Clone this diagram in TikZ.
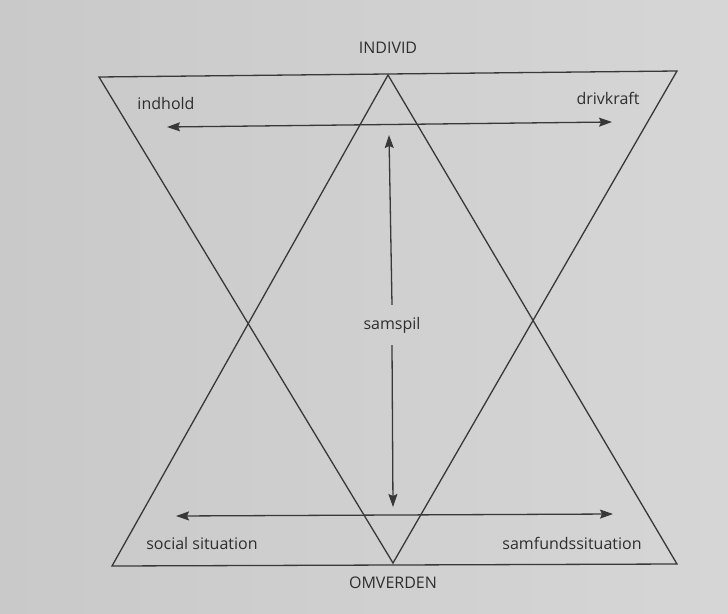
\documentclass[tikz,border=0pt]{standalone}
\usepackage{fontspec}
\setmainfont{Open Sans}
\usetikzlibrary{arrows.meta}
\definecolor{paper}{HTML}{D6D6D6}
\definecolor{paperL}{HTML}{C9C9C9}
\definecolor{ink}{HTML}{383838}
\definecolor{txt}{HTML}{2E2E2E}
\tikzset{
  edge/.style={draw=ink, line width=1.3pt, line join=miter},
  arr/.style={draw=ink, line width=1.3pt, {Stealth[length=13pt,width=9pt,inset=2pt]}-{Stealth[length=13pt,width=9pt,inset=2pt]}},
  arrone/.style={draw=ink, line width=1.3pt, -{Stealth[length=13pt,width=9pt,inset=2pt]}},
  lbl/.style={text=txt, font=\fontsize{16}{18}\selectfont, inner sep=0pt}
}
\begin{document}
\begin{tikzpicture}[x=1pt,y=-1pt]
\useasboundingbox (0,0) rectangle (728,613);
\shade[left color=paperL, right color=paper] (0,0) rectangle (728,613);
% triangle corners
\coordinate (tl) at (99,77);
\coordinate (tr) at (677,71);
\coordinate (bapex) at (393,563);
\coordinate (tapex) at (388,75);
\coordinate (bl) at (112,566);
\coordinate (br) at (677,564);
\draw[edge] (tl) -- (tr) -- (bapex) -- cycle;
\draw[edge] (tapex) -- (bl) -- (br) -- cycle;
% labels
\node[lbl] (individ) at (388,48) {INDIVID};
\node[lbl] (omverden) at (393,583) {OMVERDEN};
\node[lbl] (indhold) at (166,103) {indhold};
\node[lbl] (drivkraft) at (608,98) {drivkraft};
\node[lbl] (social) at (202,543) {social situation};
\node[lbl] (samfund) at (572,543) {samfundssituation};
\node[lbl, inner ysep=12pt] (samspil) at (392,325) {samspil};
% arrow end points
\coordinate (al) at (167,127);
\coordinate (ar) at (612,122);
\coordinate (bl2) at (176,516);
\coordinate (br2) at (613,514);
\coordinate (vt) at (389,135);
\coordinate (vb) at (393,507);
\draw[arr] (al) -- (ar);
\draw[arr] (bl2) -- (br2);
\draw[arrone] (samspil.north) -- (vt);
\draw[arrone] (samspil.south) -- (vb);
\end{tikzpicture}
\end{document}
